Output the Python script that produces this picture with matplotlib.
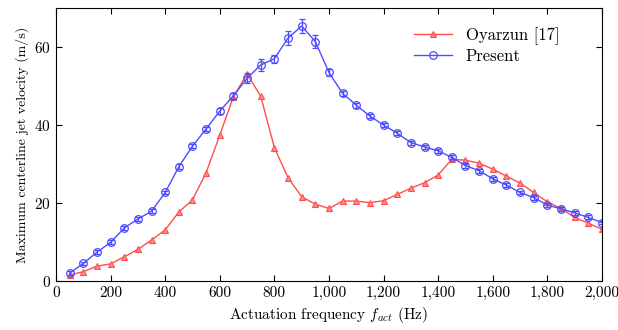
import numpy as np
import matplotlib
matplotlib.use("Agg")
import matplotlib.pyplot as plt
from matplotlib.ticker import FuncFormatter
from matplotlib.lines import Line2D

plt.rcParams['font.family'] = ['cmr10', 'DejaVu Serif']
plt.rcParams['mathtext.fontset'] = 'cm'
plt.rcParams['axes.formatter.use_mathtext'] = True

freq = list(range(50, 2001, 50))

oyarzun = [1.5, 2.4, 3.8, 4.4, 6.2, 8.1, 10.5, 13.1, 17.7, 20.8,
           27.8, 37.4, 47.3, 53.1, 47.4, 34.2, 26.5, 21.6, 19.7, 18.6,
           20.5, 20.5, 20.1, 20.6, 22.2, 23.8, 25.2, 27.2, 31.2, 31.0,
           30.2, 28.7, 26.9, 25.1, 22.7, 20.3, 18.6, 16.3, 14.8, 13.3]

present = [2.0, 4.5, 7.4, 9.9, 13.6, 15.9, 17.9, 22.7, 29.3, 34.6,
           39.0, 43.6, 47.5, 52.0, 55.4, 57.0, 62.3, 65.4, 61.4, 53.5,
           48.1, 45.1, 42.3, 40.0, 37.9, 35.5, 34.4, 33.4, 31.7, 29.6,
           28.3, 26.2, 24.6, 22.7, 21.4, 19.5, 18.5, 17.5, 16.3, 15.0]

present_err = [0.5, 0.5, 0.5, 0.5, 0.5, 0.5, 0.5, 0.5, 0.6, 0.6,
               0.6, 0.7, 0.8, 1.3, 1.5, 1.0, 1.8, 1.7, 1.6, 1.0,
               0.7, 0.6, 0.6, 0.5, 0.5, 0.5, 0.5, 0.5, 0.5, 0.5,
               0.5, 0.5, 0.5, 0.5, 0.5, 0.5, 0.5, 0.5, 0.5, 0.5]

red = (1.0, 0.3, 0.3)
blue = (0.3, 0.3, 1.0)

fig = plt.figure(figsize=(6.18, 3.30), dpi=100)
ax = fig.add_axes([0.0906, 0.1485, 0.8834, 0.827])

ax.plot(freq, oyarzun, color=red, lw=1.0, marker='^', ms=3.8,
        mfc=(1.0, 0.55, 0.55), mec=red, mew=0.8)
ax.errorbar(freq, present, yerr=present_err, color=blue, lw=1.0,
            marker='o', ms=5.5, mfc='none', mec=blue, mew=0.9,
            capsize=2.5, elinewidth=0.9)

ax.set_xlim(0, 2000)
ax.set_ylim(0, 70)
ax.set_xticks(range(0, 2001, 200))
ax.set_yticks([0, 20, 40, 60])
ax.xaxis.set_major_formatter(FuncFormatter(lambda v, p: f"{int(v):,}"))
ax.tick_params(direction='in', top=True, right=True, labelsize=11, length=4)
ax.set_xlabel('Actuation frequency $f_{act}$ (Hz)', fontsize=11)
ax.set_ylabel('Maximum centerline jet velocity (m/s)', fontsize=10)
for s in ax.spines.values():
    s.set_linewidth(0.8)

handles = [Line2D([], [], color=red, lw=1.0, marker='^', ms=3.8,
                  mfc=(1.0, 0.55, 0.55), mec=red, mew=0.8),
           Line2D([], [], color=blue, lw=1.0, marker='o', ms=5.5,
                  mfc='none', mec=blue, mew=0.9)]
ax.legend(handles, ['Oyarzun [17]', 'Present'], loc='upper left',
          bbox_to_anchor=(0.628, 0.985), frameon=False,
          fontsize=12, handlelength=2.3, labelspacing=0.2)

fig.savefig('out.png', dpi=100)
